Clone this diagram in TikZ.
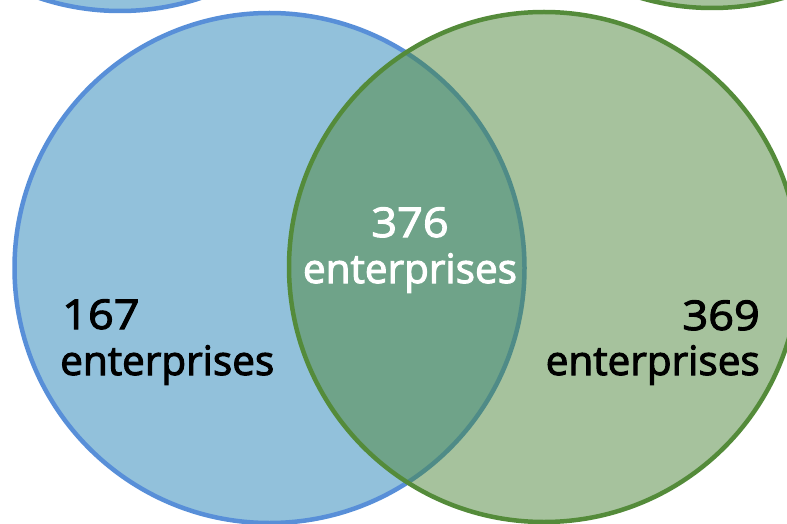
\documentclass[tikz,border=0pt]{standalone}
\usepackage{fontspec}
\setmainfont{Open Sans}
\newfontfamily\countfont{Open Sans}[FakeBold=2.6]
\newfontfamily\digitfont{Open Sans}[FakeBold=2.6,FakeStretch=1.1]
\definecolor{setAfill}{HTML}{92C1DB}
\definecolor{setAline}{HTML}{588FD8}
\definecolor{setBfill}{HTML}{A6C29D}
\definecolor{setBline}{HTML}{548B3A}
\definecolor{bothfill}{HTML}{6FA389}
\definecolor{bothline}{HTML}{4F8B87}
\begin{document}
\begin{tikzpicture}[x=1pt,y=1pt,
  ring/.style={line width=4.5pt},
  label/.style={inner sep=0pt,font=\countfont\fontsize{40.5}{48}\selectfont},
  count/.style={inner sep=0pt,font=\digitfont\fontsize{41}{48}\selectfont}]
\useasboundingbox (0,0) rectangle (787,523);
\begin{scope}
\clip (0,0) rectangle (787,523);
% neighbouring sets, cut off at the top edge
\draw[ring,draw=setAline,fill=setAfill] (120,767) circle (255);
\draw[ring,draw=setBline,fill=setBfill] (712,770) circle (255);
% set A
\coordinate (A) at (269.5,255);
\coordinate (B) at (544,256);
\draw[ring,draw=setAline,fill=setAfill] (A) circle (255);
% set B
\fill[setBfill] (B) circle (255);
% intersection of A and B
\begin{scope}
  \clip (A) circle (255);
  \fill[bothfill] (B) circle (255);
\end{scope}
\begin{scope}
  \clip (B) circle (255);
  \draw[ring,draw=bothline] (A) circle (255);
\end{scope}
\draw[ring,draw=setBline] (B) circle (255);
\end{scope}
% counts
\node[count,anchor=base,text=white] (nboth) at (410,286) {376};
\node[label,anchor=base,text=white] (lboth) at (410,240) {enterprises};
\node[count,anchor=base west] (nA) at (62,194) {167};
\node[label,anchor=base west] (lA) at (60,148) {enterprises};
\node[count,anchor=base east] (nB) at (760,193) {369};
\node[label,anchor=base east] (lB) at (760,148) {enterprises};
\end{tikzpicture}
\end{document}
